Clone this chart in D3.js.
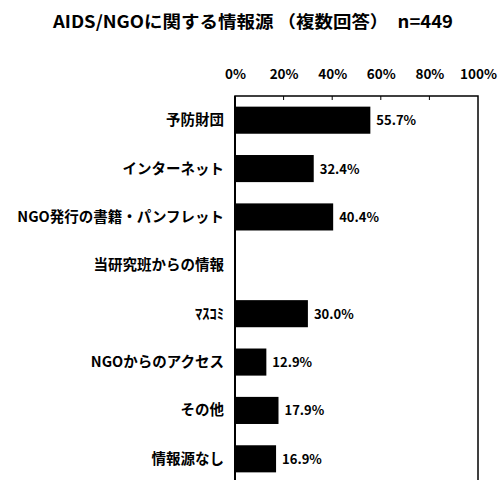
<!DOCTYPE html>
<html><head><meta charset="utf-8">
<script src="https://cdn.jsdelivr.net/npm/d3@7"></script>
<style>
body{margin:0;background:#fff;}
text{font-family:"Noto Sans CJK JP","Noto Sans",sans-serif;font-weight:bold;fill:#000;}
</style></head>
<body><svg id="c" width="500" height="480"></svg>
<script>
const categories = ["予防財団","インターネット","NGO発行の書籍・パンフレット","当研究班からの情報","ﾏｽｺﾐ","NGOからのアクセス","その他","情報源なし"];
const values = [55.7, 32.4, 40.4, null, 30.0, 12.9, 17.9, 16.9];
const valueLabels = ["55.7%","32.4%","40.4%","","30.0%","12.9%","17.9%","16.9%"];
const tickValues = [0,20,40,60,80,100];
const tickLabels = ["0%","20%","40%","60%","80%","100%"];
const titleText = "AIDS/NGOに関する情報源 （複数回答）　n=449";

const svg = d3.select("#c");
const x = d3.scaleLinear().domain([0,100]).range([235,478]);
const y = d3.scaleBand().domain(categories).range([96,483]).paddingInner(0.44).paddingOuter(0.22);

svg.append("text").attr("x",53).attr("y",28)
  .attr("textLength",400).attr("lengthAdjust","spacingAndGlyphs")
  .style("font-size","17px").text(titleText);

// frame
svg.append("rect").attr("x",x(0)).attr("y",96).attr("width",x(100)-x(0)).attr("height",400)
  .attr("fill","none").attr("stroke","#000").attr("stroke-width",1.5);
svg.append("line").attr("x1",x(0)).attr("x2",x(0)).attr("y1",96).attr("y2",480).attr("stroke","#000").attr("stroke-width",2);

// top axis
const ax = d3.axisTop(x).tickValues(tickValues).tickFormat((d,i)=>tickLabels[i]).tickSize(0).tickPadding(17);
const g = svg.append("g").attr("transform","translate(0,96)").call(ax);
g.select(".domain").remove();
g.selectAll("text").style("font-size","13.5px").style("font-family",null);
// inner tick marks
svg.selectAll(".itick").data(tickValues.slice(1,-1)).enter().append("line")
  .attr("x1",d=>x(d)).attr("x2",d=>x(d)).attr("y1",96).attr("y2",100).attr("stroke","#000");

// bars
svg.selectAll(".bar").data(categories).enter().filter((d,i)=>values[i]!=null).append("rect")
  .attr("x",x(0)).attr("y",d=>y(d)).attr("height",y.bandwidth())
  .attr("width",d=>x(values[categories.indexOf(d)])-x(0)).attr("fill","#000");

// value labels
svg.selectAll(".vl").data(categories).enter().append("text")
  .attr("x",(d,i)=>x(values[i]||0)+6).attr("y",d=>y(d)+y.bandwidth()/2+5)
  .style("font-size","13px").text((d,i)=>valueLabels[i]);

// category labels
svg.selectAll(".cl").data(categories).enter().append("text")
  .attr("x",224).attr("y",d=>y(d)+y.bandwidth()/2+5).attr("text-anchor","end")
  .style("font-size","14.5px").text(d=>d);
</script></body></html>
